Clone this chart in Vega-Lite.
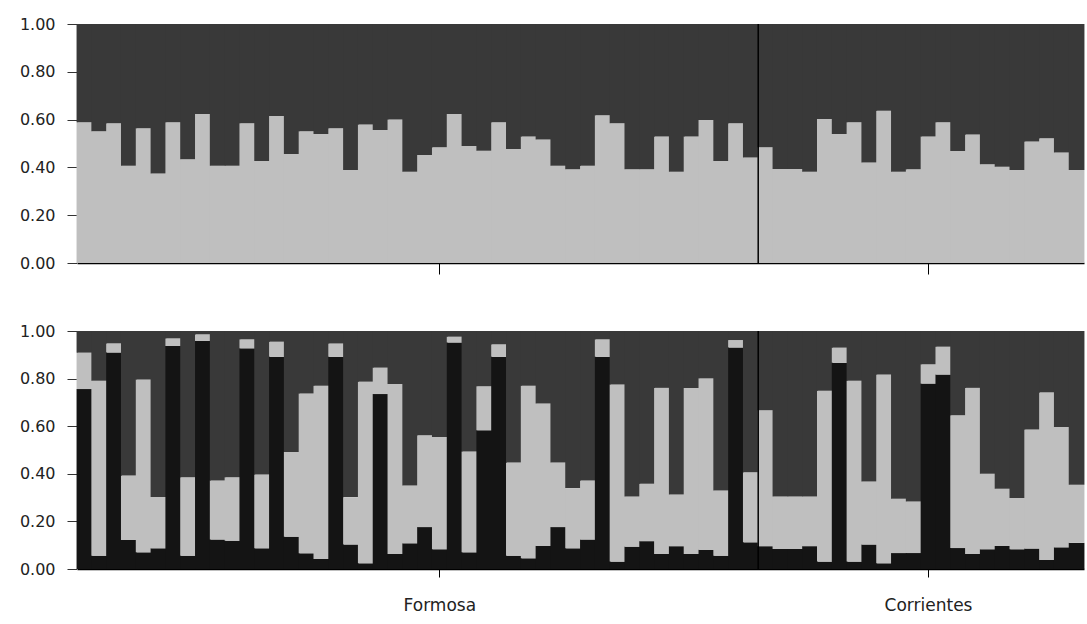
{
  "$schema": "https://vega.github.io/schema/vega-lite/v6.json",
  "background": "white",
  "padding": {"left": 17, "top": 16, "right": 4, "bottom": 0},
  "spacing": 48,
  "config": {
    "view": {"stroke": null},
    "axis": {"labelFont": "DejaVu Sans", "labelColor": "#222", "grid": false, "title": null}
  },
  "datasets": {
    "k2": [
      {"ind":"F01","pop":"Formosa","q2":0.589,"q3":0.411},
      {"ind":"F02","pop":"Formosa","q2":0.551,"q3":0.449},
      {"ind":"F03","pop":"Formosa","q2":0.585,"q3":0.415},
      {"ind":"F04","pop":"Formosa","q2":0.407,"q3":0.593},
      {"ind":"F05","pop":"Formosa","q2":0.564,"q3":0.436},
      {"ind":"F06","pop":"Formosa","q2":0.375,"q3":0.625},
      {"ind":"F07","pop":"Formosa","q2":0.589,"q3":0.411},
      {"ind":"F08","pop":"Formosa","q2":0.434,"q3":0.566},
      {"ind":"F09","pop":"Formosa","q2":0.623,"q3":0.377},
      {"ind":"F10","pop":"Formosa","q2":0.407,"q3":0.593},
      {"ind":"F11","pop":"Formosa","q2":0.407,"q3":0.593},
      {"ind":"F12","pop":"Formosa","q2":0.585,"q3":0.415},
      {"ind":"F13","pop":"Formosa","q2":0.427,"q3":0.573},
      {"ind":"F14","pop":"Formosa","q2":0.615,"q3":0.385},
      {"ind":"F15","pop":"Formosa","q2":0.456,"q3":0.544},
      {"ind":"F16","pop":"Formosa","q2":0.551,"q3":0.449},
      {"ind":"F17","pop":"Formosa","q2":0.540,"q3":0.460},
      {"ind":"F18","pop":"Formosa","q2":0.564,"q3":0.436},
      {"ind":"F19","pop":"Formosa","q2":0.389,"q3":0.611},
      {"ind":"F20","pop":"Formosa","q2":0.580,"q3":0.420},
      {"ind":"F21","pop":"Formosa","q2":0.556,"q3":0.444},
      {"ind":"F22","pop":"Formosa","q2":0.600,"q3":0.400},
      {"ind":"F23","pop":"Formosa","q2":0.382,"q3":0.618},
      {"ind":"F24","pop":"Formosa","q2":0.452,"q3":0.548},
      {"ind":"F25","pop":"Formosa","q2":0.484,"q3":0.516},
      {"ind":"F26","pop":"Formosa","q2":0.623,"q3":0.377},
      {"ind":"F27","pop":"Formosa","q2":0.490,"q3":0.510},
      {"ind":"F28","pop":"Formosa","q2":0.470,"q3":0.530},
      {"ind":"F29","pop":"Formosa","q2":0.589,"q3":0.411},
      {"ind":"F30","pop":"Formosa","q2":0.477,"q3":0.523},
      {"ind":"F31","pop":"Formosa","q2":0.529,"q3":0.471},
      {"ind":"F32","pop":"Formosa","q2":0.517,"q3":0.483},
      {"ind":"F33","pop":"Formosa","q2":0.407,"q3":0.593},
      {"ind":"F34","pop":"Formosa","q2":0.392,"q3":0.608},
      {"ind":"F35","pop":"Formosa","q2":0.407,"q3":0.593},
      {"ind":"F36","pop":"Formosa","q2":0.618,"q3":0.382},
      {"ind":"F37","pop":"Formosa","q2":0.585,"q3":0.415},
      {"ind":"F38","pop":"Formosa","q2":0.392,"q3":0.608},
      {"ind":"F39","pop":"Formosa","q2":0.392,"q3":0.608},
      {"ind":"F40","pop":"Formosa","q2":0.529,"q3":0.471},
      {"ind":"F41","pop":"Formosa","q2":0.382,"q3":0.618},
      {"ind":"F42","pop":"Formosa","q2":0.529,"q3":0.471},
      {"ind":"F43","pop":"Formosa","q2":0.598,"q3":0.402},
      {"ind":"F44","pop":"Formosa","q2":0.427,"q3":0.573},
      {"ind":"F45","pop":"Formosa","q2":0.585,"q3":0.415},
      {"ind":"F46","pop":"Formosa","q2":0.441,"q3":0.559},
      {"ind":"C01","pop":"Corrientes","q2":0.484,"q3":0.516},
      {"ind":"C02","pop":"Corrientes","q2":0.393,"q3":0.607},
      {"ind":"C03","pop":"Corrientes","q2":0.393,"q3":0.607},
      {"ind":"C04","pop":"Corrientes","q2":0.382,"q3":0.618},
      {"ind":"C05","pop":"Corrientes","q2":0.602,"q3":0.398},
      {"ind":"C06","pop":"Corrientes","q2":0.540,"q3":0.460},
      {"ind":"C07","pop":"Corrientes","q2":0.589,"q3":0.411},
      {"ind":"C08","pop":"Corrientes","q2":0.421,"q3":0.579},
      {"ind":"C09","pop":"Corrientes","q2":0.637,"q3":0.363},
      {"ind":"C10","pop":"Corrientes","q2":0.382,"q3":0.618},
      {"ind":"C11","pop":"Corrientes","q2":0.392,"q3":0.608},
      {"ind":"C12","pop":"Corrientes","q2":0.529,"q3":0.471},
      {"ind":"C13","pop":"Corrientes","q2":0.589,"q3":0.411},
      {"ind":"C14","pop":"Corrientes","q2":0.469,"q3":0.531},
      {"ind":"C15","pop":"Corrientes","q2":0.538,"q3":0.462},
      {"ind":"C16","pop":"Corrientes","q2":0.413,"q3":0.587},
      {"ind":"C17","pop":"Corrientes","q2":0.403,"q3":0.597},
      {"ind":"C18","pop":"Corrientes","q2":0.389,"q3":0.611},
      {"ind":"C19","pop":"Corrientes","q2":0.508,"q3":0.492},
      {"ind":"C20","pop":"Corrientes","q2":0.522,"q3":0.478},
      {"ind":"C21","pop":"Corrientes","q2":0.462,"q3":0.538},
      {"ind":"C22","pop":"Corrientes","q2":0.389,"q3":0.611}
    ],
    "k3": [
      {"ind":"F01","pop":"Formosa","q1":0.756,"q2":0.153,"q3":0.091},
      {"ind":"F02","pop":"Formosa","q1":0.056,"q2":0.735,"q3":0.209},
      {"ind":"F03","pop":"Formosa","q1":0.910,"q2":0.038,"q3":0.052},
      {"ind":"F04","pop":"Formosa","q1":0.122,"q2":0.271,"q3":0.607},
      {"ind":"F05","pop":"Formosa","q1":0.070,"q2":0.726,"q3":0.204},
      {"ind":"F06","pop":"Formosa","q1":0.087,"q2":0.215,"q3":0.698},
      {"ind":"F07","pop":"Formosa","q1":0.937,"q2":0.032,"q3":0.031},
      {"ind":"F08","pop":"Formosa","q1":0.056,"q2":0.330,"q3":0.614},
      {"ind":"F09","pop":"Formosa","q1":0.958,"q2":0.028,"q3":0.014},
      {"ind":"F10","pop":"Formosa","q1":0.124,"q2":0.248,"q3":0.628},
      {"ind":"F11","pop":"Formosa","q1":0.119,"q2":0.267,"q3":0.614},
      {"ind":"F12","pop":"Formosa","q1":0.927,"q2":0.038,"q3":0.035},
      {"ind":"F13","pop":"Formosa","q1":0.087,"q2":0.310,"q3":0.603},
      {"ind":"F14","pop":"Formosa","q1":0.892,"q2":0.063,"q3":0.045},
      {"ind":"F15","pop":"Formosa","q1":0.136,"q2":0.356,"q3":0.508},
      {"ind":"F16","pop":"Formosa","q1":0.066,"q2":0.671,"q3":0.263},
      {"ind":"F17","pop":"Formosa","q1":0.042,"q2":0.728,"q3":0.230},
      {"ind":"F18","pop":"Formosa","q1":0.892,"q2":0.056,"q3":0.052},
      {"ind":"F19","pop":"Formosa","q1":0.103,"q2":0.199,"q3":0.698},
      {"ind":"F20","pop":"Formosa","q1":0.024,"q2":0.763,"q3":0.213},
      {"ind":"F21","pop":"Formosa","q1":0.735,"q2":0.111,"q3":0.154},
      {"ind":"F22","pop":"Formosa","q1":0.063,"q2":0.714,"q3":0.223},
      {"ind":"F23","pop":"Formosa","q1":0.108,"q2":0.243,"q3":0.649},
      {"ind":"F24","pop":"Formosa","q1":0.176,"q2":0.386,"q3":0.438},
      {"ind":"F25","pop":"Formosa","q1":0.083,"q2":0.472,"q3":0.445},
      {"ind":"F26","pop":"Formosa","q1":0.952,"q2":0.024,"q3":0.024},
      {"ind":"F27","pop":"Formosa","q1":0.070,"q2":0.424,"q3":0.506},
      {"ind":"F28","pop":"Formosa","q1":0.583,"q2":0.185,"q3":0.232},
      {"ind":"F29","pop":"Formosa","q1":0.892,"q2":0.052,"q3":0.056},
      {"ind":"F30","pop":"Formosa","q1":0.056,"q2":0.391,"q3":0.553},
      {"ind":"F31","pop":"Formosa","q1":0.045,"q2":0.725,"q3":0.230},
      {"ind":"F32","pop":"Formosa","q1":0.097,"q2":0.598,"q3":0.305},
      {"ind":"F33","pop":"Formosa","q1":0.176,"q2":0.271,"q3":0.553},
      {"ind":"F34","pop":"Formosa","q1":0.087,"q2":0.253,"q3":0.660},
      {"ind":"F35","pop":"Formosa","q1":0.124,"q2":0.248,"q3":0.628},
      {"ind":"F36","pop":"Formosa","q1":0.892,"q2":0.073,"q3":0.035},
      {"ind":"F37","pop":"Formosa","q1":0.031,"q2":0.744,"q3":0.225},
      {"ind":"F38","pop":"Formosa","q1":0.094,"q2":0.211,"q3":0.695},
      {"ind":"F39","pop":"Formosa","q1":0.117,"q2":0.241,"q3":0.642},
      {"ind":"F40","pop":"Formosa","q1":0.063,"q2":0.698,"q3":0.239},
      {"ind":"F41","pop":"Formosa","q1":0.096,"q2":0.217,"q3":0.687},
      {"ind":"F42","pop":"Formosa","q1":0.063,"q2":0.698,"q3":0.239},
      {"ind":"F43","pop":"Formosa","q1":0.081,"q2":0.720,"q3":0.199},
      {"ind":"F44","pop":"Formosa","q1":0.056,"q2":0.274,"q3":0.670},
      {"ind":"F45","pop":"Formosa","q1":0.931,"q2":0.031,"q3":0.038},
      {"ind":"F46","pop":"Formosa","q1":0.112,"q2":0.295,"q3":0.593},
      {"ind":"C01","pop":"Corrientes","q1":0.096,"q2":0.571,"q3":0.333},
      {"ind":"C02","pop":"Corrientes","q1":0.084,"q2":0.221,"q3":0.695},
      {"ind":"C03","pop":"Corrientes","q1":0.084,"q2":0.221,"q3":0.695},
      {"ind":"C04","pop":"Corrientes","q1":0.096,"q2":0.209,"q3":0.695},
      {"ind":"C05","pop":"Corrientes","q1":0.031,"q2":0.718,"q3":0.251},
      {"ind":"C06","pop":"Corrientes","q1":0.867,"q2":0.063,"q3":0.070},
      {"ind":"C07","pop":"Corrientes","q1":0.031,"q2":0.760,"q3":0.209},
      {"ind":"C08","pop":"Corrientes","q1":0.103,"q2":0.265,"q3":0.632},
      {"ind":"C09","pop":"Corrientes","q1":0.024,"q2":0.793,"q3":0.183},
      {"ind":"C10","pop":"Corrientes","q1":0.067,"q2":0.228,"q3":0.705},
      {"ind":"C11","pop":"Corrientes","q1":0.067,"q2":0.217,"q3":0.716},
      {"ind":"C12","pop":"Corrientes","q1":0.779,"q2":0.081,"q3":0.140},
      {"ind":"C13","pop":"Corrientes","q1":0.817,"q2":0.117,"q3":0.066},
      {"ind":"C14","pop":"Corrientes","q1":0.088,"q2":0.558,"q3":0.354},
      {"ind":"C15","pop":"Corrientes","q1":0.063,"q2":0.698,"q3":0.239},
      {"ind":"C16","pop":"Corrientes","q1":0.083,"q2":0.317,"q3":0.600},
      {"ind":"C17","pop":"Corrientes","q1":0.097,"q2":0.240,"q3":0.663},
      {"ind":"C18","pop":"Corrientes","q1":0.083,"q2":0.215,"q3":0.702},
      {"ind":"C19","pop":"Corrientes","q1":0.086,"q2":0.500,"q3":0.414},
      {"ind":"C20","pop":"Corrientes","q1":0.038,"q2":0.704,"q3":0.258},
      {"ind":"C21","pop":"Corrientes","q1":0.091,"q2":0.506,"q3":0.403},
      {"ind":"C22","pop":"Corrientes","q1":0.110,"q2":0.244,"q3":0.646}
    ]
  },
  "vconcat": [
    {
      "width": 1007,
      "height": 239,
      "layer": [
        {
          "data": {"name": "k2"},
          "transform": [{"fold": ["q2", "q3"], "as": ["cluster", "q"]}],
          "mark": {"type": "bar", "width": {"band": 1.06}},
          "encoding": {
            "x": {"field": "ind", "type": "ordinal", "sort": null,
              "scale": {"paddingInner": 0, "paddingOuter": 0},
              "axis": {"values": ["F25", "C12"], "labels": false, "tickSize": 11, "domainColor": "#000", "tickColor": "#000", "domainWidth": 1.5}},
            "y": {"field": "q", "type": "quantitative", "stack": "zero",
              "scale": {"domain": [0, 1], "nice": false},
              "axis": {"values": [0, 0.2, 0.4, 0.6, 0.8, 1], "format": ".2f", "tickSize": 10, "labelPadding": 12, "labelFontSize": 16, "labelFlush": false, "domainColor": "#999", "tickColor": "#333", "minExtent": 60, "maxExtent": 60}},
            "color": {"field": "cluster", "type": "nominal", "legend": null,
              "scale": {"domain": ["q1", "q2", "q3"], "range": ["#141414", "#bfbfbf", "#393939"]}},
            "order": {"field": "cluster", "type": "ordinal"}
          }
        },
        {
          "data": {"name": "k2"},
          "transform": [{"filter": "datum.ind == 'C01'"}],
          "mark": {"type": "rule", "color": "#000", "strokeWidth": 1.5},
          "encoding": {
            "x": {"field": "ind", "type": "ordinal", "sort": null, "bandPosition": 0}
          }
        }
      ]
    },
    {
      "width": 1007,
      "height": 238,
      "layer": [
        {
          "data": {"name": "k3"},
          "transform": [{"fold": ["q1", "q2", "q3"], "as": ["cluster", "q"]}],
          "mark": {"type": "bar", "width": {"band": 1.06}},
          "encoding": {
            "x": {"field": "ind", "type": "ordinal", "sort": null,
              "scale": {"paddingInner": 0, "paddingOuter": 0},
              "axis": {"values": ["F25", "C12"], "labelExpr": "datum.value == 'F25' ? 'Formosa' : 'Corrientes'", "labelAngle": 0, "labelFontSize": 17, "labelPadding": 20, "tickSize": 8, "domainColor": "#000", "tickColor": "#000", "domainWidth": 1.5}},
            "y": {"field": "q", "type": "quantitative", "stack": "zero",
              "scale": {"domain": [0, 1], "nice": false},
              "axis": {"values": [0, 0.2, 0.4, 0.6, 0.8, 1], "format": ".2f", "tickSize": 10, "labelPadding": 12, "labelFontSize": 16, "labelFlush": false, "domainColor": "#999", "tickColor": "#333", "minExtent": 60, "maxExtent": 60}},
            "color": {"field": "cluster", "type": "nominal", "legend": null,
              "scale": {"domain": ["q1", "q2", "q3"], "range": ["#141414", "#bfbfbf", "#393939"]}},
            "order": {"field": "cluster", "type": "ordinal"}
          }
        },
        {
          "data": {"name": "k3"},
          "transform": [{"filter": "datum.ind == 'C01'"}],
          "mark": {"type": "rule", "color": "#000", "strokeWidth": 1.5},
          "encoding": {
            "x": {"field": "ind", "type": "ordinal", "sort": null, "bandPosition": 0}
          }
        }
      ]
    }
  ]
}
